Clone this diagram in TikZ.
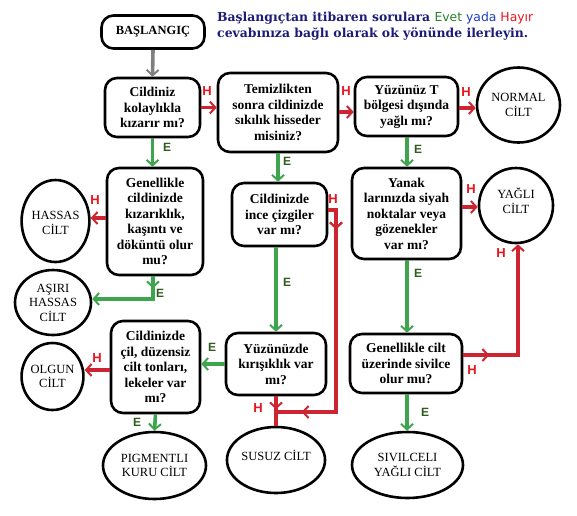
\documentclass[tikz,border=0pt]{standalone}
\usepackage{fontspec}
\setmainfont{Liberation Serif}[BoldFont={Liberation Serif Bold}]
\newfontfamily\titlefont{DejaVu Serif}
\newfontfamily\labfont{Liberation Sans}
\newfontfamily\altfont{DejaVu Sans}
\usetikzlibrary{arrows.meta,shapes.geometric,decorations.markings}
\definecolor{hred}{RGB}{204,36,48}
\definecolor{egreen}{RGB}{62,165,78}
\definecolor{elab}{RGB}{48,92,32}
\definecolor{hlab}{RGB}{232,22,32}
\definecolor{navyt}{RGB}{28,28,120}
\definecolor{bluet}{RGB}{30,60,200}
\definecolor{greent}{RGB}{40,130,40}
\definecolor{gray5}{RGB}{128,128,128}
\tikzset{
  qbox/.style={draw, line width=2.6pt, rounded corners=12pt, align=center, inner sep=1pt,
    font=\bfseries\fontsize{13.5}{15.5}\selectfont},
  res/.style={draw, ellipse, line width=2.6pt, align=center, inner sep=0pt,
    font=\fontsize{12.5}{14.5}\selectfont},
  tipb/.tip={Straight Barb[length=5.5pt,width=12pt,line width=2pt]},
  rarr/.style={color=hred, line width=3.6pt, -tipb},
  garr/.style={color=egreen, line width=3.6pt, -tipb},
  rline/.style={color=hred, line width=3.6pt},
  gline/.style={color=egreen, line width=3.6pt},
  midtip/.style={postaction={decorate}, decoration={markings, mark=at position #1 with {\arrow{tipb}}}},
  hl/.style={text=hlab, font=\labfont\bfseries\fontsize{13}{13}\selectfont, inner sep=0pt},
  el/.style={text=elab, font=\labfont\bfseries\fontsize{12}{12}\selectfont, inner sep=0pt},
}
\begin{document}
\begin{tikzpicture}[x=1pt,y=-1pt]
\useasboundingbox[fill=white] (0,0) rectangle (577,515);

% nodes
\node[qbox, minimum width=103pt, minimum height=33pt, font=\bfseries\fontsize{12.5}{14}\selectfont] (start) at (153,32) {BAŞLANGIÇ};
\node[anchor=north west, align=left, inner sep=0pt, font=\titlefont\bfseries\fontsize{12.4}{16}\selectfont] (title) at (217,12)
  {\textcolor{navyt}{Başlangıçtan itibaren sorulara} {\altfont\mdseries\textcolor{greent}{Evet} \textcolor{bluet}{yada} \textcolor{hlab}{Hayır}}\\
   \textcolor{navyt}{cevabınıza bağlı olarak ok yönünde ilerleyin.}};

\node[qbox, minimum width=95pt, minimum height=59pt] (q1) at (152.5,107.5) {Cildiniz\\kolaylıkla\\kızarır mı?};
\node[qbox, minimum width=120pt, minimum height=79pt] (q2) at (278,112.5) {Temizlikten\\sonra cildinizde\\sıkılık hisseder\\misiniz?};
\node[qbox, minimum width=103pt, minimum height=59pt] (q3) at (406.5,106.5) {Yüzünüz T\\bölgesi dışında\\yağlı mı?};
\node[res, minimum width=83pt, minimum height=75pt] (normal) at (518.5,105) {NORMAL\\CİLT};

\node[qbox, minimum width=96pt, minimum height=107pt] (q4) at (155,221.5) {Genellikle\\cildinizde\\kızarıklık,\\kaşıntı ve\\döküntü olur\\mu?};
\node[qbox, minimum width=95pt, minimum height=63pt] (q5) at (279.5,214.5) {Cildinizde\\ince çizgiler\\var mı?};
\node[qbox, minimum width=109pt, minimum height=91pt] (q6) at (406.5,213.5) {Yanak\\larınızda siyah\\noktalar veya\\gözenekler\\var mı?};
\node[res, minimum width=74pt, minimum height=75pt] (yagli) at (516,205.5) {YAĞLI\\CİLT\\[-5pt]};

\node[res, minimum width=65pt, minimum height=82pt] (hassas) at (55.5,221) {\\[-2pt]HASSAS\\CİLT};
\node[res, minimum width=76pt, minimum height=65pt] (asiri) at (53,302.5) {AŞIRI\\HASSAS\\CİLT};

\node[qbox, minimum width=89pt, minimum height=92pt] (q9) at (155.5,367) {Cildinizde\\çil, düzensiz\\cilt tonları,\\lekeler var\\mı?};
\node[res, minimum width=61pt, minimum height=67pt] (olgun) at (52.5,376.5) {OLGUN\\CİLT};
\node[qbox, minimum width=100pt, minimum height=62pt] (q7) at (276,364) {Yüzünüzde\\kırışıklık var\\mı?};
\node[qbox, minimum width=112pt, minimum height=59pt] (q8) at (406,363.5) {Genellikle cilt\\üzerinde sivilce\\olur mu?};

\node[res, minimum width=103pt, minimum height=67pt] (pigment) at (154.5,465.5) {PIGMENTLI\\KURU CİLT};
\node[res, minimum width=98pt, minimum height=66pt] (susuz) at (276,460) {SUSUZ CİLT\\[-4.5pt]};
\node[res, minimum width=111pt, minimum height=66pt] (sivilceli) at (407.5,465) {SIVILCELI\\YAĞLI CİLT};

% coordinates
\coordinate (c1) at (336,210);
\coordinate (c2) at (336,412);
\coordinate (c3) at (518,355);

% connectors
\draw[color=gray5, line width=3.6pt, -tipb] (start.south) -- (q1.north);
\draw[rarr] (q1.east) -- (q1.east -| q2.west);
\draw[rarr] (q2.east |- 0,112) -- (q3.west |- 0,112);
\draw[rarr] (q3.east |- 0,108) -- (normal.west |- 0,108);
\draw[garr] (q1.south) -- (q1.south |- q4.north);
\draw[garr] (q2.south -| 278,0) -- (q5.north -| 278,0);
\draw[garr] (q3.south -| 407,0) -- (q6.north -| 407,0);
\draw[rarr] (q4.west |- 0,218) -- (hassas.east |- 0,218);
\draw[gline, midtip=12pt, -tipb] (q4.south -| 153,0) |- (asiri.east |- 0,299);
\draw[garr] (q5.south -| q7.north) -- (q7.north);
\draw[rline, midtip=27pt, postaction={decorate, decoration={markings, mark=at position 244pt with {\arrow{tipb}}}}] (q5.east |- c1) -- (c1) -- (c2) -- (c2 -| q7.south);
\draw[rarr] (q6.east |- 0,207) -- (yagli.west |- 0,207);
\draw[garr] (q6.south -| 407,0) -- (q8.north -| 407,0);
\draw[rline, midtip=26pt, -tipb] (q8.east |- c3) -- (c3) -- (c3 |- yagli.south);
\draw[garr] (q8.south -| 407,0) -- (sivilceli.north -| 407,0);
\draw[garr] (q7.west |- 0,364) -- (q9.east |- 0,364);
\draw[rarr] (q9.west |- 0,370) -- (olgun.east |- 0,370);
\draw[garr] (q9.south) -- (pigment.north);
\draw[rline, midtip=13pt] (q7.south) -- (susuz.north);

% labels
\node[hl] (h1) at (207,91) {H};
\node[hl] (h2) at (346,91) {H};
\node[hl] (h3) at (466,92) {H};
\node[el] (e1) at (167,147) {E};
\node[el] (e2) at (287,161) {E};
\node[el] (e3) at (418,149) {E};
\node[hl] (h4) at (95,200) {H};
\node[el] (e4) at (160,293) {E};
\node[hl] (h5) at (333,199) {H};
\node[hl] (h6) at (471,189) {H};
\node[el] (e5) at (287,282) {E};
\node[el] (e6) at (212,347) {E};
\node[hl] (h7) at (97,358) {H};
\node[el] (e7) at (137,422) {E};
\node[hl] (h8) at (258,408) {H};
\node[el] (e8) at (418,273) {E};
\node[hl] (h9) at (472,370) {H};
\node[hl] (h10) at (501,253) {H};
\node[el] (e9) at (425,412) {E};
\end{tikzpicture}
\end{document}
